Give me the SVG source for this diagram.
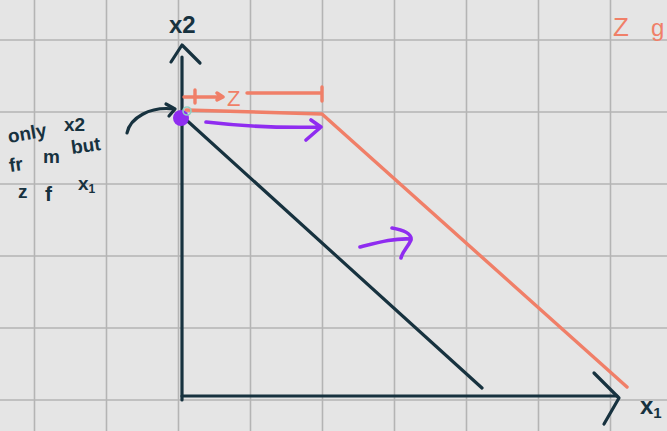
<svg xmlns="http://www.w3.org/2000/svg" width="667" height="431" viewBox="0 0 667 431">
<defs>
<style>
.grid{stroke:#b4b4b4;stroke-width:1.6}
.dk{stroke:#17323f;stroke-width:3.2;fill:none;stroke-linecap:round;stroke-linejoin:round}
.or{stroke:#f07f68;stroke-width:3.4;fill:none;stroke-linecap:round;stroke-linejoin:round}
.pu{stroke:#8f2cf0;stroke-width:3.6;fill:none;stroke-linecap:round;stroke-linejoin:round}
.tdk{fill:#17323f;font-family:"Liberation Sans",Arial,sans-serif;font-weight:bold}
.tor{fill:#f07f68;font-family:"Liberation Sans",Arial,sans-serif}
</style>
</defs>
<rect width="667" height="431" fill="#e5e5e5"/>
<g id="grid">
<path class="grid" d="M34.5 0V431M106.5 0V431M178.5 0V431M250.5 0V431M322.5 0V431M394.5 0V431M466.5 0V431M538.5 0V431M610.5 0V431M0 40H667M0 112H667M0 184H667M0 256H667M0 328H667M0 400H667"/>
</g>
<g id="axes">
<path class="dk" d="M182 57V400"/>
<path class="dk" d="M171 62L182 45L200 63"/>
<path class="dk" d="M182 396H617"/>
<path class="dk" d="M594 373L619 398L604 424"/>
<text class="tdk" x="169" y="33" font-size="24">x2</text>
<text class="tdk" x="640" y="414" font-size="24">x<tspan font-size="15" dy="4">1</tspan></text>
</g>
<g id="budget-line-1">
<path class="dk" d="M182 116L482 388"/>
</g>
<g id="budget-line-2">
<path class="or" d="M186 110L322 114L627 387"/>
</g>
<g id="dimension-z">
<path class="or" d="M184 97H223M217 93L223 97L217 100M195 90V103M247 93H322M322 87V101" stroke-width="2.6"/>
<text class="tor" x="227" y="106" font-size="22">Z</text>
</g>
<g id="point">
<circle cx="181" cy="118" r="8" fill="#8f2cf0"/>
<circle cx="187" cy="111" r="4" fill="none" stroke="#8fd0c4" stroke-width="1.6"/>
</g>
<g id="connectors">
<path class="dk" d="M127 133C130 118 150 106 174 109"/>
<path class="dk" d="M166 104L175 109L169 116"/>
<path class="pu" d="M206 122C240 126 280 128 321 127M311 120L321 127L306 140"/>
<path class="pu" d="M360 247C380 242 395 238 411 239M392 228C404 230 412 234 411 240C408 247 402 252 401 258"/>
</g>
<g id="note">
<text class="tdk" font-size="19" transform="translate(9 143) rotate(-10)">only</text>
<text class="tdk" font-size="19" x="64" y="131">x2</text>
<text class="tdk" font-size="19" transform="translate(10 172) rotate(-8)">fr</text>
<text class="tdk" font-size="19" x="43" y="163">m</text>
<text class="tdk" font-size="19" transform="translate(72 154) rotate(-8)">but</text>
<text class="tdk" font-size="19" x="18" y="198">z</text>
<text class="tdk" font-size="21" x="45" y="201">f</text>
<text class="tdk" font-size="19" x="78" y="190">x<tspan font-size="12" dy="3">1</tspan></text>
</g>
<g id="corner">
<text class="tor" x="613" y="36" font-size="26">Z</text>
<text class="tor" x="651" y="36" font-size="24">g</text>
</g>
</svg>
